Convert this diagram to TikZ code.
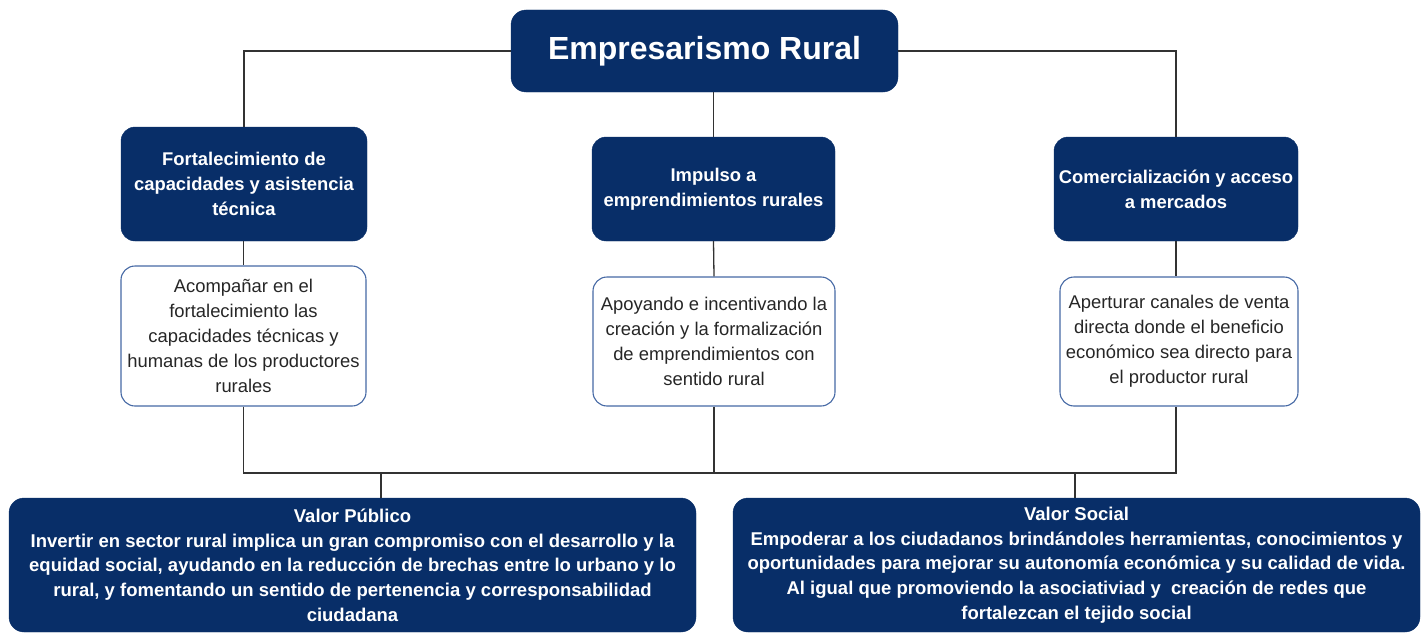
\documentclass[tikz,border=0pt]{standalone}
\usepackage{fontspec}
\setmainfont{Liberation Sans}
\definecolor{navy}{RGB}{8,46,104}
\definecolor{edgeblue}{RGB}{70,105,165}
\definecolor{wire}{RGB}{50,50,50}
\begin{document}
\begin{tikzpicture}[x=1pt,y=-1pt,
  darkbox/.style={draw=navy,fill=navy,rounded corners=14pt,text=white,align=center,inner sep=0pt,
    font=\bfseries\fontsize{18.4}{25}\selectfont},
  lightbox/.style={draw=edgeblue,line width=1.1pt,fill=white,rounded corners=14pt,text=black!85,align=center,inner sep=0pt,
    font=\fontsize{18.4}{25}\selectfont},
  bigbox/.style={draw=navy,fill=navy,rounded corners=15pt,text=white,align=center,inner sep=0pt,
    font=\bfseries\fontsize{18.5}{24.7}\selectfont},
  wireline/.style={draw=wire,line width=1.3pt}]
\useasboundingbox (0,0) rectangle (1426,634);
% title
\node[darkbox,rounded corners=15pt,minimum width=387pt,minimum height=82pt,font=\bfseries\fontsize{32}{36}\selectfont] (title) at (704.5,51) {Empresarismo Rural};
% level 1
\node[darkbox,minimum width=246pt,minimum height=114pt] (b1) at (244,184) {Fortalecimiento de\\capacidades y asistencia\\técnica};
\node[darkbox,minimum width=243pt,minimum height=104pt] (b2) at (713.5,189) {Impulso a\\emprendimientos rurales};
\node[darkbox,minimum width=244pt,minimum height=104pt] (b3) at (1176,189) {Comercialización y acceso\\a mercados};
% level 2
\node[lightbox,minimum width=245pt,minimum height=140pt] (w1) at (243.5,336) {Acompañar en el\\fortalecimiento las\\capacidades técnicas y\\humanas de los productores\\rurales};
\node[lightbox,minimum width=242pt,minimum height=129pt] (w2) at (714,341.5) {Apoyando e incentivando la\\creación y la formalización\\de emprendimientos con\\sentido rural};
\node[lightbox,minimum width=238pt,minimum height=129pt] (w3) at (1179,341.5) {Aperturar canales de venta\\directa donde el beneficio\\económico sea directo para\\el productor rural};
% bottom
\node[bigbox,minimum width=687pt,minimum height=134pt] (vp) at (352.5,565) {Valor Público\\Invertir en sector rural implica un gran compromiso con el desarrollo y la\\equidad social, ayudando en la reducción de brechas entre lo urbano y lo\\rural, y fomentando un sentido de pertenencia y corresponsabilidad\\ciudadana};
\node[bigbox,minimum width=687pt,minimum height=134pt] (vs) at (1076.5,565) {Valor Social\\Empoderar a los ciudadanos brindándoles herramientas, conocimientos y\\oportunidades para mejorar su autonomía económica y su calidad de vida.\\Al igual que promoviendo la asociativiad y\ \ creación de redes que\\fortalezcan el tejido social};
% connectors
\coordinate (bus) at (0,473);
\coordinate (j1) at (381,473);
\coordinate (j2) at (1075,473);
\draw[wireline] (title.west) -| (b1.north);
\draw[wireline] (title.east) -| (b3.north);
\draw[wireline] (title.south -| b2.north) -- (b2.north);
\draw[wireline] (b1.south -| w1.north) -- (w1.north);
\draw[wireline] (b2.south) -- (w2.north);
\draw[wireline] (b3.south) -- (b3.south |- w3.north);
\draw[wireline] (w1.south) -- (w1.south |- bus) -- (b3.south |- bus) -- (b3.south |- w3.south);
\draw[wireline] (w2.south) -- (w2.south |- bus);
\draw[wireline] (j1) -- (j1 |- vp.north);
\draw[wireline] (j2) -- (j2 |- vs.north);
\end{tikzpicture}
\end{document}
